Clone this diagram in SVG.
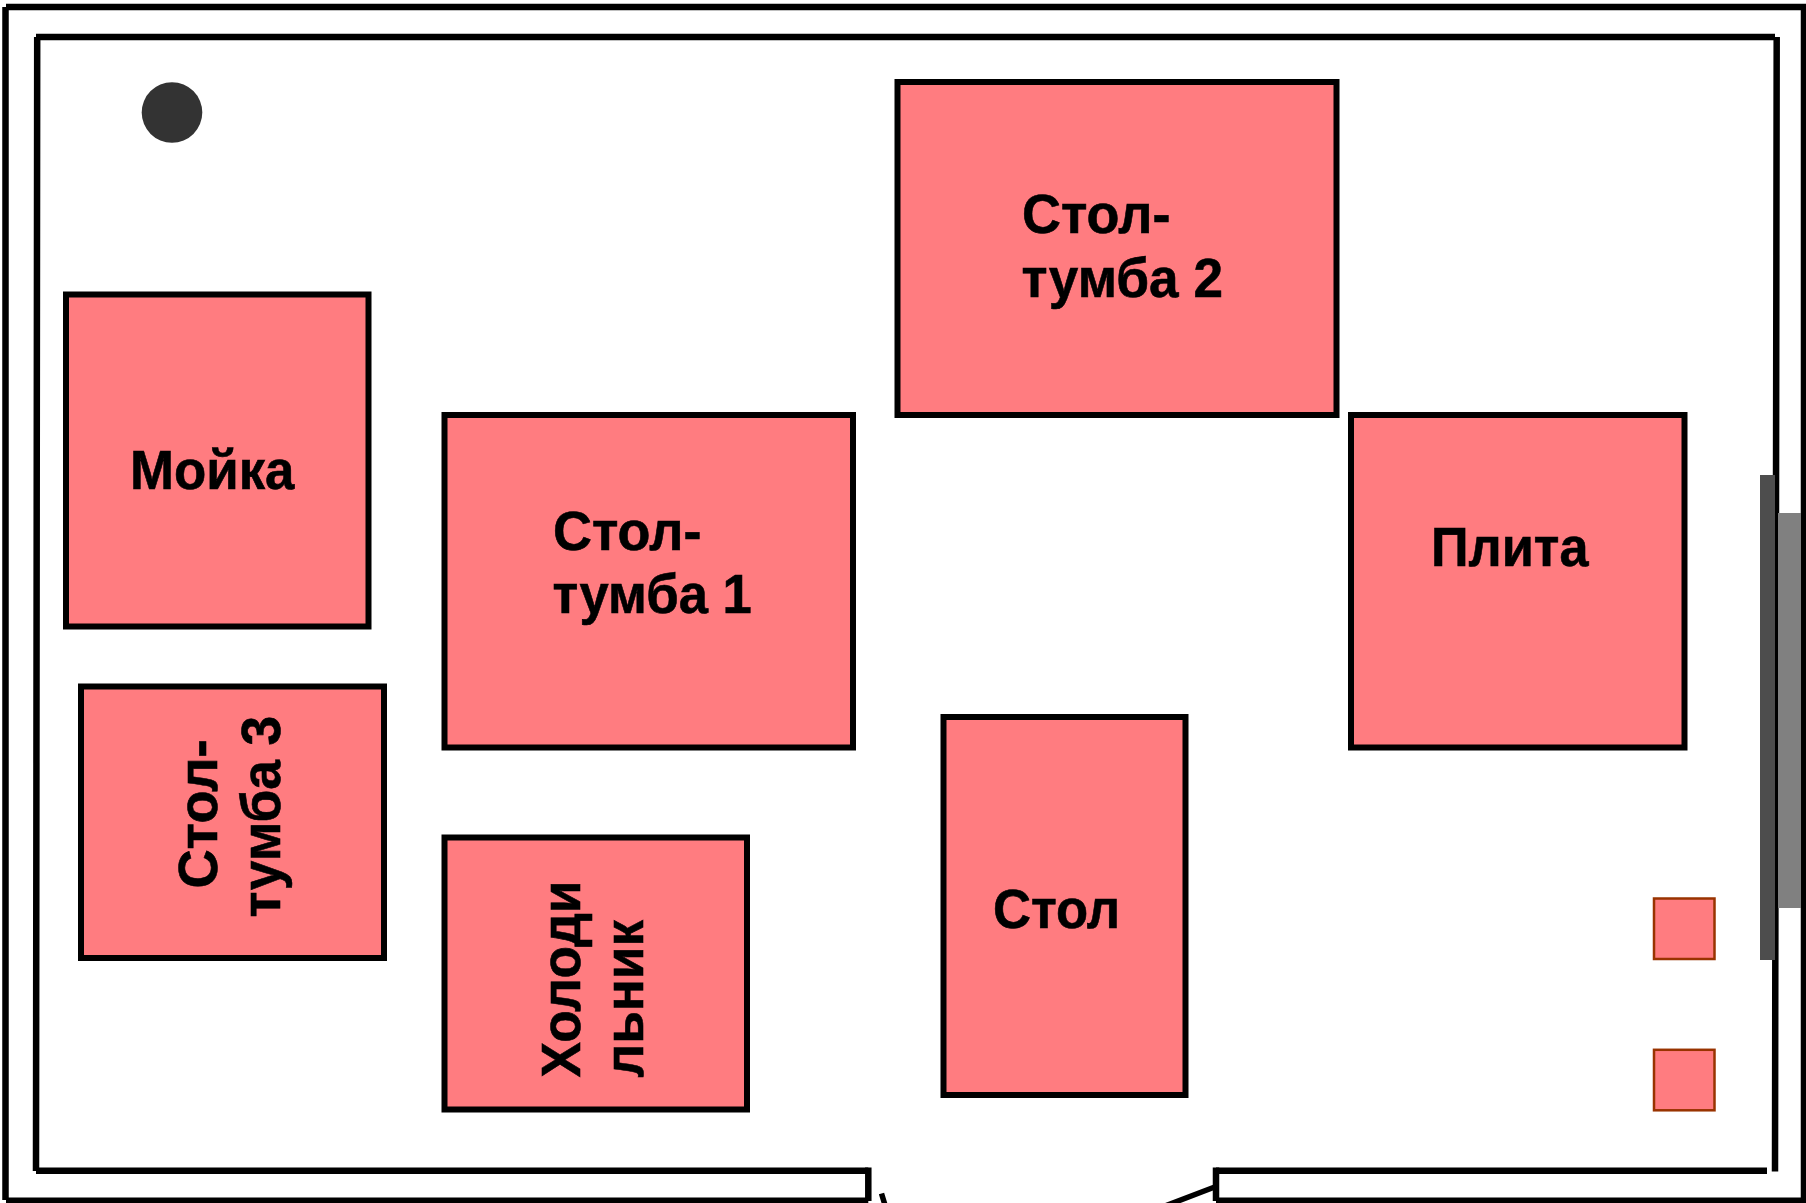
<svg xmlns="http://www.w3.org/2000/svg" width="1806" height="1203" viewBox="0 0 1806 1203">
<style>
.w{fill:none;stroke:#000;stroke-width:6.500}
.d{fill:none;stroke:#000;stroke-width:5.500}
.n{fill:#ff7c80;stroke:#000;stroke-width:6}
.s{fill:#ff7c80;stroke:#993300;stroke-width:2.500}
.t{font-family:"Liberation Sans",Arial,sans-serif;font-weight:700;font-size:55px;fill:#000;stroke:#000;stroke-width:.6}
</style>
<rect width="1806" height="1203" fill="#fff"/>
<g id="walls">
<path class="w" d="M6 7H1806M5.500 7V1200M6 1200.800H868.300M1804 7V1200.800H1216"/>
<path class="w" d="M36 37H1775M37.200 37L36 1171M36 1170.800H868.300M1776.700 37L1776 500L1775 1171.500M1216 1170.800H1767"/>
<path class="w" d="M868.300 1167.600V1201M1216 1167.600V1201"/>
<path class="d" d="M881.500 1193.500L885 1205M1216 1186.500L1165 1206"/>
</g>
<g id="window">
<rect x="1760" y="475" width="15" height="485" fill="#4d4d4d"/>
<rect x="1778" y="513" width="23" height="395" fill="#808080"/>
</g>
<circle id="column" cx="172" cy="112.500" r="30.300" fill="#333"/>
<g id="moyka"><rect class="n" x="66" y="294.500" width="302.500" height="332"/><text class="t" transform="translate(130 489) scale(.96 1)">Мойка</text></g>
<g id="stol-tumba-1"><rect class="n" x="444.500" y="415" width="408.500" height="332.500"/><text class="t" transform="translate(553 549.500) scale(.98 1)">Стол-</text><text class="t" transform="translate(552.500 613) scale(.955 1)">тумба 1</text></g>
<g id="stol-tumba-2"><rect class="n" x="897.500" y="82" width="439" height="333"/><text class="t" transform="translate(1022 233) scale(.98 1)">Стол-</text><text class="t" transform="translate(1021.500 296.500) scale(.966 1)">тумба 2</text></g>
<g id="plita"><rect class="n" x="1351" y="415" width="333.500" height="332.500"/><text class="t" transform="translate(1431 565.500) scale(.95 1)">Плита</text></g>
<g id="stol-tumba-3"><rect class="n" x="81" y="686.500" width="303" height="271.500"/><text class="t" transform="translate(216.500 888.500) rotate(-90) scale(.985 1)">Стол-</text><text class="t" transform="translate(279.500 917.500) rotate(-90) scale(.967 1)">тумба 3</text></g>
<g id="holodilnik"><rect class="n" x="444.500" y="837.500" width="302.500" height="272"/><text class="t" transform="translate(580 1077.500) rotate(-90) scale(.966 1)">Холоди</text><text class="t" transform="translate(643 1077.500) rotate(-90) scale(.965 1)">льник</text></g>
<g id="stol"><rect class="n" x="943.500" y="717" width="242" height="378"/><text class="t" transform="translate(993 928) scale(.956 1)">Стол</text></g>
<rect id="outlet-1" class="s" x="1654" y="898.500" width="60.500" height="60.500"/>
<rect id="outlet-2" class="s" x="1654" y="1049.800" width="60.500" height="60.500"/>
</svg>
